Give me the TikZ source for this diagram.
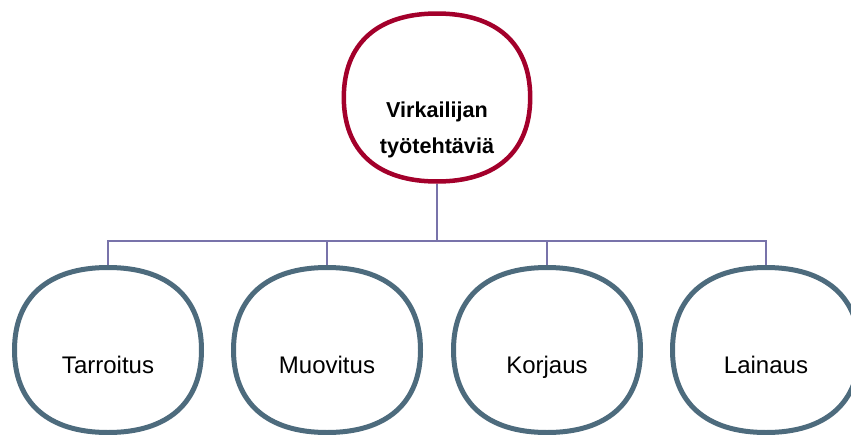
\documentclass[tikz,border=0pt]{standalone}
\usepackage{fontspec}
\setmainfont{Liberation Sans}
\usetikzlibrary{shapes.geometric}
\definecolor{topred}{HTML}{A3002B}
\definecolor{slate}{HTML}{4D6B7D}
\definecolor{connc}{HTML}{7873AA}
% rounded (slightly squarish) circle: center x, center y (pt, y downwards), half width, half height, style
\newcommand{\sqcircle}[5]{%
  \begin{scope}[shift={(#1pt,-#2pt)},x=#3pt,y=#4pt]
  \def\kk{0.64}
  \draw[#5] (1,0) .. controls (1,\kk) and (\kk,1) .. (0,1)
    .. controls (-\kk,1) and (-1,\kk) .. (-1,0)
    .. controls (-1,-\kk) and (-\kk,-1) .. (0,-1)
    .. controls (\kk,-1) and (1,-\kk) .. cycle;
  \end{scope}}
\begin{document}
\begin{tikzpicture}[x=1pt,y=-1pt,
  shapeholder/.style={ellipse,draw=none,inner sep=0pt,outer sep=0pt},
  topline/.style={draw=topred,line width=4.5pt},
  leafline/.style={draw=slate,line width=5pt},
  toptext/.style={anchor=base,inner sep=0pt,font=\fontsize{21.6}{36}\selectfont\bfseries},
  leaftext/.style={anchor=base,inner sep=0pt,font=\fontsize{24}{28}\selectfont},
  conn/.style={draw=connc,line width=1.5pt}]
\useasboundingbox (0,0) rectangle (851,434);
\fill[white] (0,0) rectangle (851,434);
\coordinate (bus) at (437,241);
% shapes
\node[shapeholder,minimum width=191pt,minimum height=172.5pt] (top) at (437,97.5) {};
\sqcircle{437}{97.5}{93.2}{84}{topline}
\foreach \n/\x in {t1/108,t2/327,t3/547,t4/766}{
  \node[shapeholder,minimum width=192pt,minimum height=170pt] (\n) at (\x,350) {};
  \sqcircle{\x}{350}{93.5}{82.5}{leafline}
}
% texts
\node[toptext] (toplabel1) at (437,117) {Virkailijan};
\node[toptext] (toplabel2) at (437,153) {työtehtäviä};
\node[leaftext] (l1) at (108,373) {Tarroitus};
\node[leaftext] (l2) at (327,373) {Muovitus};
\node[leaftext] (l3) at (547,373) {Korjaus};
\node[leaftext] (l4) at (766,373) {Lainaus};
% connectors
\draw[conn] (top.south) -- (top.south |- bus);
\draw[conn] (t1.north) -- (t1.north |- bus) -- (t4.north |- bus) -- (t4.north);
\draw[conn] (t2.north) -- (t2.north |- bus);
\draw[conn] (t3.north) -- (t3.north |- bus);
\end{tikzpicture}
\end{document}
